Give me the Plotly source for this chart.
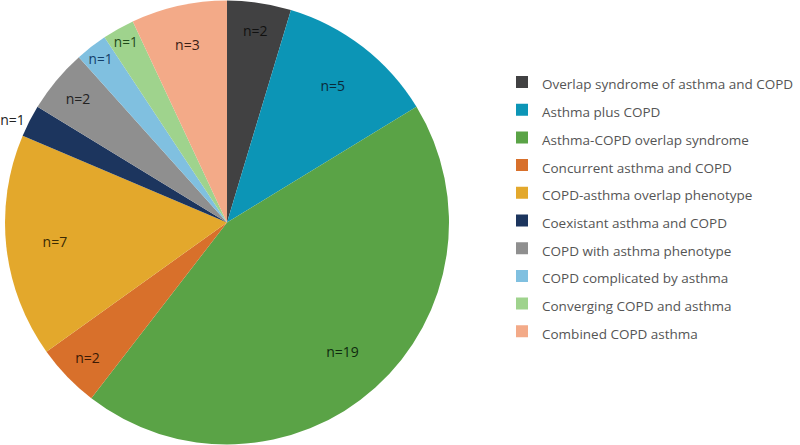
import plotly.graph_objects as go

categories = [
    "Overlap syndrome of asthma and COPD",
    "Asthma plus COPD",
    "Asthma-COPD overlap syndrome",
    "Concurrent asthma and COPD",
    "COPD-asthma overlap phenotype",
    "Coexistant asthma and COPD",
    "COPD with asthma phenotype",
    "COPD complicated by asthma",
    "Converging COPD and asthma",
    "Combined COPD asthma",
]
counts = [2, 5, 19, 2, 7, 1, 2, 1, 1, 3]
slice_colors = ["#414142", "#0c95b6", "#5aa346", "#d8702b", "#e3a82c",
                "#1c355e", "#8f8f8f", "#80c0e0", "#9fd38d", "#f3aa88"]
label_colors = ["#111111", "#0a2a3a", "#0f2a0f", "#3a1a05", "#3a2a05",
                "#222222", "#222222", "#123e6a", "#1f4a1a", "#3a2015"]
label_positions = ["inside", "inside", "inside", "inside", "inside",
                   "outside", "inside", "inside", "inside", "inside"]

legend_labels = [f"<span style='font-size:13.5px'>{c}</span>" for c in categories]
pie_domain = dict(x=[5/800, 449/800], y=[0, 1])

fig = go.Figure()
# coloured slices + legend
fig.add_trace(go.Pie(
    labels=legend_labels,
    values=counts,
    sort=False,
    direction="clockwise",
    rotation=0,
    marker=dict(colors=slice_colors, line=dict(width=0)),
    textinfo="none",
    domain=pie_domain,
    hoverinfo="label+value",
))
# transparent ring carrying the "n=" data labels near the rim
fig.add_trace(go.Pie(
    labels=legend_labels,
    values=counts,
    sort=False,
    direction="clockwise",
    rotation=0,
    hole=0.56,
    marker=dict(colors=["rgba(0,0,0,0)"] * len(counts), line=dict(width=0)),
    texttemplate="n=%{value}",
    textposition=label_positions,
    insidetextorientation="horizontal",
    textfont=dict(family="Open Sans", size=14, color=label_colors),
    outsidetextfont=dict(family="Open Sans", size=14, color="#222222"),
    domain=pie_domain,
    showlegend=False,
    hoverinfo="skip",
))

fig.update_layout(
    width=800, height=445,
    margin=dict(l=0, r=0, t=0, b=0, autoexpand=False),
    paper_bgcolor="white",
    showlegend=True,
    legend=dict(
        x=0.6275, y=0.5356, xanchor="left", yanchor="middle",
        font=dict(family="Open Sans", size=19, color="#555555"),
        itemclick=False,
    ),
)

fig.write_html("out.html", config={"displayModeBar": False},
               post_script="document.body.style.margin='0';")
